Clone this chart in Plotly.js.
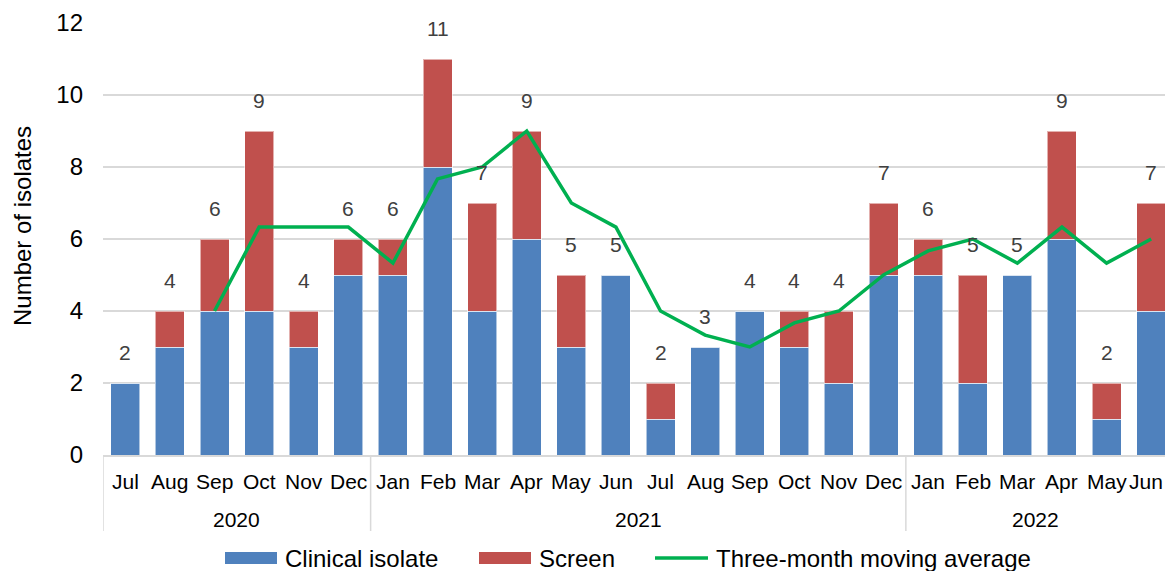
<!DOCTYPE html>
<html>
<head>
<meta charset="utf-8">
<script src="https://cdn.plot.ly/plotly-3.0.1.min.js"></script>
<style>html,body{margin:0;padding:0;background:#fff;}#chart{width:1165px;height:571px;}</style>
</head>
<body>
<div id="chart"></div>
<script>
// ---- data ----
const months = ["Jul","Aug","Sep","Oct","Nov","Dec","Jan","Feb","Mar","Apr","May","Jun","Jul","Aug","Sep","Oct","Nov","Dec","Jan","Feb","Mar","Apr","May","Jun"];
const years = ["2020","2021","2022"];
const yearStartIndex = [0, 6, 18];
const clinical = [2,3,4,4,3,5,5,8,4,6,3,5,1,3,4,3,2,5,5,2,5,6,1,4];
const screen   = [0,1,2,5,1,1,1,3,3,3,2,0,1,0,0,1,2,2,1,3,0,3,1,3];
const totals   = [2,4,6,9,4,6,6,11,7,9,5,5,2,3,4,4,4,7,6,5,5,9,2,7];
const movingAvg = [null,null,4,6.33,6.33,6.33,5.33,7.67,8,9,7,6.33,4,3.33,3,3.67,4,5,5.67,6,5.33,6.33,5.33,6];
const seriesNames = ["Clinical isolate","Screen","Three-month moving average"];
const colors = {clinical:"#4F81BD", screen:"#C0504D", avg:"#00B050"};

// ---- layout helpers (pixel geometry) ----
const W = 1165, H = 571;
const L = 103, T = 23, B = 455;
const plotW = W - L, plotH = B - T;
const px2x = p => (p - L) / plotW;
const px2y = p => (B - p) / plotH;
const FONT = "Liberation Sans, Arial, sans-serif";
const XMAX = 23.31;

const xs = months.map((_, i) => i);

const traces = [
  {type:"bar", x:xs, y:clinical, name:seriesNames[0], marker:{color:colors.clinical, line:{color:"rgba(255,255,255,0.55)", width:1}}, showlegend:false, hoverinfo:"y"},
  {type:"bar", x:xs, y:screen, name:seriesNames[1], marker:{color:colors.screen, line:{color:"rgba(255,255,255,0.55)", width:1}}, showlegend:false, hoverinfo:"y"},
  {type:"scatter", mode:"lines", x:xs, y:movingAvg, name:seriesNames[2], line:{color:colors.avg, width:3.5}, connectgaps:false, showlegend:false}
];

const annotations = [];
// total labels
totals.forEach((t, i) => {
  annotations.push({x:i, y:t, xref:"x", yref:"y", text:String(t), showarrow:false, yshift:31, font:{family:FONT, size:21, color:"#404040"}});
});
// month labels (annotations; the last one is nudged to stay inside the page)
months.forEach((m, i) => {
  const last = i === months.length - 1;
  annotations.push({x:i, y:px2y(481), xref:"x", yref:"paper", text:m, showarrow:false, yanchor:"middle", xshift: last ? -5 : 0, font:{family:FONT, size:21, color:"#000"}});
});
// year labels
const yearEnds = yearStartIndex.slice(1).concat([XMAX + 0.5]);
years.forEach((yr, k) => {
  const a = yearStartIndex[k] - 0.5, b = yearEnds[k] - 0.5;
  annotations.push({x:(a + b) / 2, y:px2y(519), xref:"x", yref:"paper", text:yr, showarrow:false, yanchor:"middle", font:{family:FONT, size:21, color:"#000"}});
});
// y-axis title
annotations.push({x:px2x(22), y:px2y(226), xref:"paper", yref:"paper", text:"Number of isolates", textangle:-90, showarrow:false, xanchor:"center", yanchor:"middle", font:{family:FONT, size:24, color:"#000"}});

const shapes = [];
// year dividers
yearStartIndex.forEach(s => {
  shapes.push({type:"line", xref:"x", yref:"paper", x0:s - 0.5, x1:s - 0.5, y0:0, y1:px2y(531), line:{color:"#d9d9d9", width:1.5}});
});

// custom legend
const legendY = 558;
const legendItems = [
  {kind:"rect", color:colors.clinical, x0:225, x1:277, tx:283, text:seriesNames[0]},
  {kind:"rect", color:colors.screen, x0:479, x1:531, tx:537, text:seriesNames[1]},
  {kind:"line", color:colors.avg, x0:655, x1:708, tx:714, text:seriesNames[2]}
];
legendItems.forEach(it => {
  if (it.kind === "rect") {
    shapes.push({type:"rect", xref:"paper", yref:"paper", x0:px2x(it.x0), x1:px2x(it.x1), y0:px2y(legendY + 6), y1:px2y(legendY - 6), fillcolor:it.color, line:{width:0}});
  } else {
    shapes.push({type:"line", xref:"paper", yref:"paper", x0:px2x(it.x0), x1:px2x(it.x1), y0:px2y(legendY), y1:px2y(legendY), line:{color:it.color, width:3.5}});
  }
  annotations.push({x:px2x(it.tx), y:px2y(legendY), xref:"paper", yref:"paper", text:it.text, showarrow:false, xanchor:"left", yanchor:"middle", font:{family:FONT, size:24, color:"#000"}});
});

const layout = {
  width:W, height:H,
  margin:{l:L, r:0, t:T, b:H - B, pad:0},
  paper_bgcolor:"#fff", plot_bgcolor:"#fff",
  barmode:"stack", bargap:0.35,
  font:{family:FONT, color:"#000"},
  xaxis:{
    range:[-0.5, XMAX], tickmode:"array", tickvals:xs, ticktext:months, showticklabels:false,
    showgrid:false, zeroline:false, showline:true, linecolor:"#d9d9d9", linewidth:1.5,
    ticks:"", fixedrange:true
  },
  yaxis:{
    range:[0, 12], dtick:2, tick0:0, showgrid:true, gridcolor:"#d9d9d9", gridwidth:1.5,
    zeroline:false, showline:false, ticks:"", tickfont:{family:FONT, size:24, color:"#000"},
    ticklabelstandoff:19, fixedrange:true
  },
  annotations:annotations,
  shapes:shapes,
  showlegend:false
};

Plotly.newPlot("chart", traces, layout, {displayModeBar:false, staticPlot:true});
</script>
</body>
</html>
